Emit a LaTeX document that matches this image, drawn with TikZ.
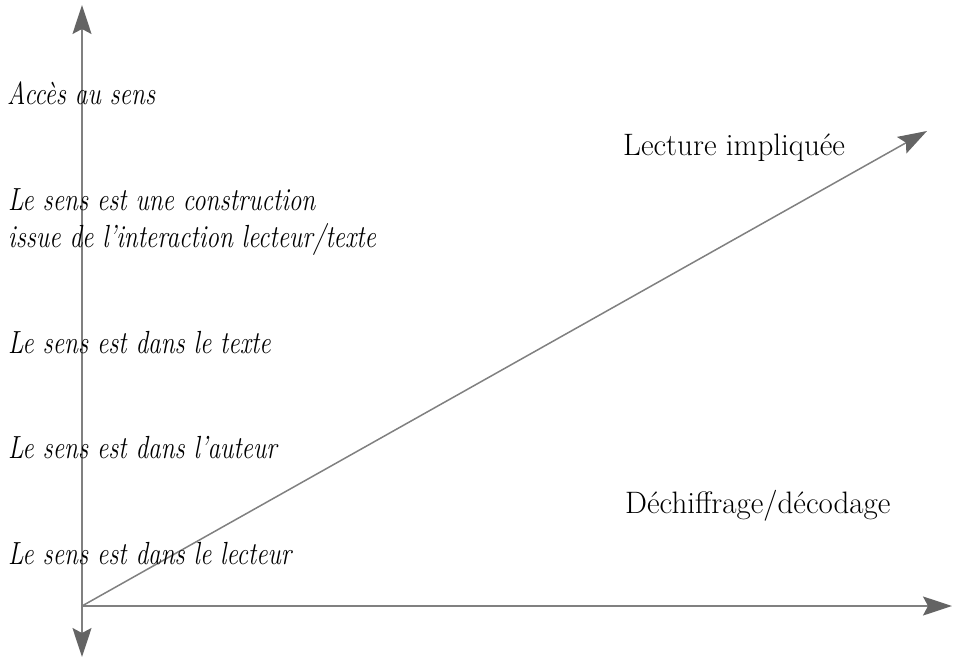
\documentclass[tikz,border=0pt]{standalone}
\usetikzlibrary{arrows.meta}
\definecolor{axisline}{RGB}{128,128,128}
\definecolor{axishead}{RGB}{100,100,100}
\newcommand{\narrowit}[1]{\scalebox{0.79}[1]{#1}}
\begin{document}
\begin{tikzpicture}[x=1pt,y=-1pt,
  axis/.style={draw=axisline,line width=1.5pt,
    -{Stealth[length=29pt,width=19pt,inset=5pt,color=axishead]}},
  sensitem/.style={anchor=base west,inner sep=0pt,
    font=\fontsize{32}{37}\selectfont\itshape},
  readlabel/.style={anchor=base west,inner sep=0pt,
    font=\fontsize{31}{36}\selectfont}]
\useasboundingbox (0,0) rectangle (953,658);
\coordinate (O) at (82,606);
\coordinate (top) at (82,5);
\coordinate (bottom) at (82,657);
\coordinate (right) at (952,606);
\coordinate (diag) at (927,131);
\draw[axis] (O) -- (top);
\draw[axis] (O) -- (bottom);
\draw[axis] (O) -- (right);
\draw[axis] (O) -- (diag);
\node[sensitem] (acces) at (7,105) {\narrowit{Accès au sens}};
\node[sensitem] (construction) at (8,210) {\narrowit{\begin{tabular}[t]{@{}l@{}}Le sens est une construction\\issue de l’interaction lecteur/texte\end{tabular}}};
\node[sensitem] (texte) at (8,353) {\narrowit{Le sens est dans le texte}};
\node[sensitem] (auteur) at (8,458) {\narrowit{Le sens est dans l’auteur}};
\node[sensitem] (lecteur) at (8,564) {\narrowit{Le sens est dans le lecteur}};
\node[readlabel] (impliquee) at (623,155) {Lecture impliquée};
\node[readlabel] (dechiffrage) at (625,513) {Déchiffrage/décodage};
\end{tikzpicture}
\end{document}
